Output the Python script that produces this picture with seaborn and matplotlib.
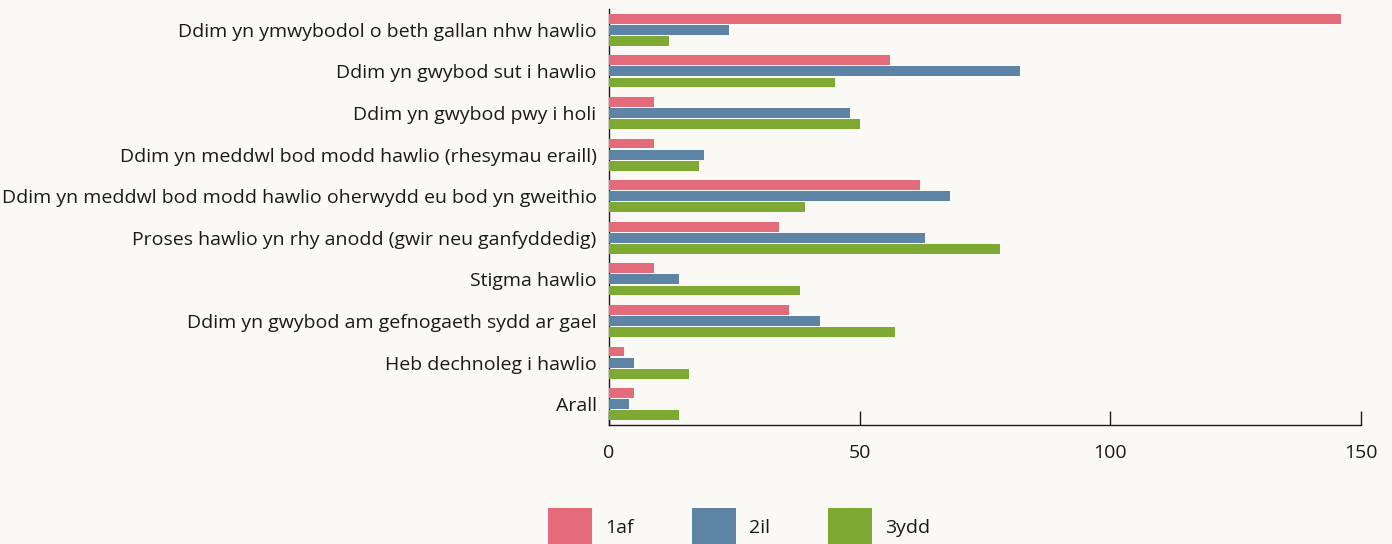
import matplotlib
matplotlib.use("Agg")
import matplotlib.pyplot as plt
import matplotlib.patches as mpatches
import pandas as pd
import seaborn as sns

# reasons (Welsh) and counts per ranking
reasons = [
    "Ddim yn ymwybodol o beth gallan nhw hawlio",
    "Ddim yn gwybod sut i hawlio",
    "Ddim yn gwybod pwy i holi",
    "Ddim yn meddwl bod modd hawlio (rhesymau eraill)",
    "Ddim yn meddwl bod modd hawlio oherwydd eu bod yn gweithio",
    "Proses hawlio yn rhy anodd (gwir neu ganfyddedig)",
    "Stigma hawlio",
    "Ddim yn gwybod am gefnogaeth sydd ar gael",
    "Heb dechnoleg i hawlio",
    "Arall",
]
first = [146, 56, 9, 9, 62, 34, 9, 36, 3, 5]
second = [24, 82, 48, 19, 68, 63, 14, 42, 5, 4]
third = [12, 45, 50, 18, 39, 78, 38, 57, 16, 14]
series = ["1af", "2il", "3ydd"]
colors = ["#e46c7a", "#5e84a5", "#7eaa34"]
xticks = [0, 50, 100, 150]

df = pd.DataFrame({
    "reason": reasons * 3,
    "count": first + second + third,
    "rank": [series[0]] * 10 + [series[1]] * 10 + [series[2]] * 10,
})

bg = "#faf9f5"
ink = "#1a1a1a"
sns.set_style("white")
plt.rcParams["font.family"] = ["Open Sans", "DejaVu Sans"]

fig = plt.figure(figsize=(13.92, 5.44), dpi=100, facecolor=bg)
ax = fig.add_axes([609 / 1392, 1 - 425 / 544, (1361 - 609) / 1392, (425 - 9) / 544])
ax.set_facecolor(bg)

sns.barplot(data=df, y="reason", x="count", hue="rank", order=reasons,
            hue_order=series, palette=colors, orient="h", width=0.8, gap=0.1,
            saturation=1, legend=False, ax=ax, zorder=3, linewidth=0)

ax.set_xlim(0, 150)
ax.set_ylim(9.5, -0.5)
ax.set_xticks(xticks)
ax.set_xlabel("")
ax.set_ylabel("")
ax.tick_params(axis="x", bottom=True, direction="in", length=10, width=1,
               color=ink, pad=14, labelsize=14, labelcolor=ink)
ax.tick_params(axis="y", length=0, pad=9, labelsize=14, labelcolor=ink)
for s in ["top", "right"]:
    ax.spines[s].set_visible(False)
for s in ["left", "bottom"]:
    ax.spines[s].set_color(ink)
    ax.spines[s].set_linewidth(1)
    ax.spines[s].set_zorder(1)

handles = [mpatches.Patch(color=c, label=l, linewidth=0) for c, l in zip(colors, series)]
fig.legend(handles=handles, loc="center", bbox_to_anchor=(0.531, 1 - 527 / 544),
           ncol=3, frameon=False, fontsize=14, handlelength=2.27, handleheight=2.7,
           handletextpad=0.65, columnspacing=3.0, labelcolor=ink)

fig.savefig("out.png", dpi=100, facecolor=bg)
